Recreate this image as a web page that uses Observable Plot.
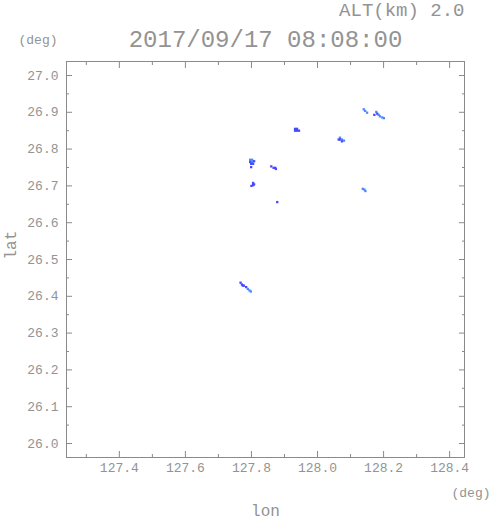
<!DOCTYPE html>
<html><head><meta charset="utf-8">
<script src="https://cdn.jsdelivr.net/npm/d3@7"></script>
<script src="https://cdn.jsdelivr.net/npm/@observablehq/plot@0.6"></script>
<style>
body{margin:0;background:#fff}
svg{display:block}
</style></head>
<body><div id="chart"></div>
<script>
const titleText = "2017/09/17 08:08:00";
const altText = "ALT(km) 2.0";
const unitText = "(deg)";
const xLabel = "lon";
const yLabel = "lat";

const xDomain = [127.24, 128.445];
const yDomain = [25.962, 27.038];
const xMajor = [127.4, 127.6, 127.8, 128.0, 128.2, 128.4];
const xMinor = [127.3, 127.5, 127.7, 127.9, 128.1, 128.3];
const yMajor = [26.0, 26.1, 26.2, 26.3, 26.4, 26.5, 26.6, 26.7, 26.8, 26.9, 27.0];
const yMinor = [26.05, 26.15, 26.25, 26.35, 26.45, 26.55, 26.65, 26.75, 26.85, 26.95];

// radar echo cells (lon, lat, level)
const echoLon = [
  127.932, 127.938, 127.932, 127.938, 127.944,
  128.068, 128.068, 128.074, 128.074, 128.080, 128.064,
  128.140, 128.144, 128.150,
  128.172, 128.178, 128.181, 128.185, 128.189, 128.196, 128.201,
  127.796, 127.802, 127.796, 127.802, 127.808, 127.799, 127.805, 127.799,
  127.860, 127.867, 127.872, 127.874,
  127.805, 127.805, 127.800, 127.808,
  128.137, 128.142, 128.145,
  127.878,
  127.767, 127.771, 127.774, 127.777, 127.784, 127.789, 127.794, 127.798
];
const echoLat = [
  26.855, 26.855, 26.850, 26.850, 26.850,
  26.831, 26.826, 26.826, 26.821, 26.823, 26.826,
  26.908, 26.904, 26.899,
  26.893, 26.901, 26.896, 26.893, 26.889, 26.886, 26.884,
  26.771, 26.771, 26.765, 26.765, 26.767, 26.760, 26.760, 26.751,
  26.753, 26.749, 26.749, 26.746,
  26.708, 26.702, 26.700, 26.704,
  26.692, 26.690, 26.686,
  26.656,
  26.437, 26.432, 26.429, 26.429, 26.425, 26.420, 26.416, 26.413
];
const echoLevel = [
  1, 1, 1, 1, 1,
  2, 1, 2, 1, 2, 1,
  2, 2, 2,
  1, 2, 1, 2, 2, 2, 2,
  2, 2, 1, 2, 1, 1, 1, 1,
  1, 1, 1, 1,
  1, 1, 1, 1,
  2, 2, 2,
  1,
  1, 1, 1, 1, 1, 2, 2, 2
];
const levelColors = ["#4848ff", "#4a8aff"];

const echoes = echoLon.map((lon, i) => ({lon, lat: echoLat[i], level: echoLevel[i]}));
const gray = "#8a8a8a";
const textGray = "#939393";
const font = "'Liberation Mono', 'DejaVu Sans Mono', monospace";

const fmt = d => d.toFixed(1);

const chart = Plot.plot({
  width: 491,
  height: 521,
  marginLeft: 66,
  marginRight: 27,
  marginTop: 61,
  marginBottom: 64,
  style: {fontFamily: font, fontSize: "13px", color: textGray, background: "#fff"},
  x: {domain: xDomain},
  y: {domain: yDomain},
  color: {type: "ordinal", domain: [1, 2], range: levelColors},
  marks: [
    Plot.frame({stroke: gray}),
    // inward ticks, all four sides
    Plot.axisX(xMajor, {anchor: "bottom", tickSize: -6, tickFormat: () => "", label: null, stroke: gray}),
    Plot.axisX(xMinor, {anchor: "bottom", tickSize: -3, tickFormat: () => "", label: null, stroke: gray}),
    Plot.axisX(xMajor, {anchor: "top", tickSize: -6, tickFormat: () => "", label: null, stroke: gray}),
    Plot.axisX(xMinor, {anchor: "top", tickSize: -3, tickFormat: () => "", label: null, stroke: gray}),
    Plot.axisY(yMajor, {anchor: "left", tickSize: -6, tickFormat: () => "", label: null, stroke: gray}),
    Plot.axisY(yMinor, {anchor: "left", tickSize: -3, tickFormat: () => "", label: null, stroke: gray}),
    Plot.axisY(yMajor, {anchor: "right", tickSize: -6, tickFormat: () => "", label: null, stroke: gray}),
    Plot.axisY(yMinor, {anchor: "right", tickSize: -3, tickFormat: () => "", label: null, stroke: gray}),
    // tick labels
    Plot.axisX(xMajor, {anchor: "bottom", tickSize: 0, tickPadding: 5, tickFormat: fmt, label: null, fill: textGray}),
    Plot.axisY(yMajor, {anchor: "left", tickSize: 0, tickPadding: 8, tickFormat: fmt, label: null, fill: textGray}),
    // echoes
    Plot.dot(echoes, {x: "lon", y: "lat", fill: "level", symbol: "square", r: 1.3}),
    // texts
    Plot.text([titleText], {frameAnchor: "top", lineAnchor: "middle", dy: -22, fontSize: 24, fill: textGray, text: d => d}),
    Plot.text([altText], {frameAnchor: "top-right", textAnchor: "end", lineAnchor: "middle", dy: -52, fontSize: 19, fill: textGray, text: d => d}),
    Plot.text([unitText], {frameAnchor: "top-left", textAnchor: "end", lineAnchor: "middle", dx: -9, dy: -22, fontSize: 13, fill: textGray, text: d => d}),
    Plot.text([unitText], {frameAnchor: "bottom-right", textAnchor: "end", lineAnchor: "middle", dx: 26, dy: 35, fontSize: 13, fill: textGray, text: d => d}),
    Plot.text([xLabel], {frameAnchor: "bottom", lineAnchor: "middle", dy: 53, fontSize: 16, fill: textGray, text: d => d}),
    Plot.text([yLabel], {frameAnchor: "left", lineAnchor: "middle", dx: -56, rotate: -90, fontSize: 16, fill: textGray, text: d => d})
  ]
});
document.getElementById("chart").appendChild(chart);
</script>
</body></html>
